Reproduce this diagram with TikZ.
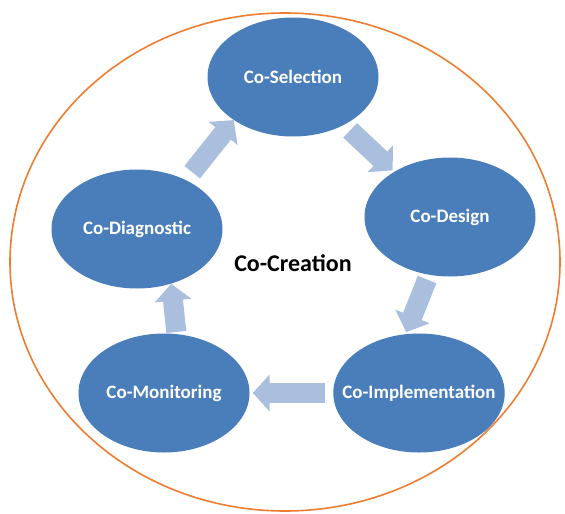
\documentclass[tikz,border=0pt]{standalone}
\usepackage{fontspec}
\setmainfont{Carlito}
\usetikzlibrary{arrows.meta, shapes.geometric}
\definecolor{phaseblue}{HTML}{4A7EBB}
\definecolor{flowblue}{HTML}{AABFDE}
\definecolor{ringorange}{HTML}{ED7D31}

\begin{document}
\begin{tikzpicture}[x=1pt, y=-1pt,
        phase/.style = {ellipse, fill=phaseblue, text=white, inner xsep=-16pt, inner ysep=0pt, minimum width=171pt, minimum height=119pt, font=\fontsize{19}{22}\selectfont\bfseries},
        flow/.style = {draw=flowblue, fill=flowblue, line width=20pt, -{Triangle[length=17pt, width=36pt]}}]
        \useasboundingbox (0,0) rectangle (565,514);
        \draw [ringorange, line width=1.6pt] (285,262) ellipse [x radius=275pt, y radius=249pt];
        \node [phase] (sel) at (293,77) {Co-Selection};
        \node [phase] (des) at (450,217) {Co-Design};
        \node [phase] (imp) at (419,393) {Co-Implementation};
        \node [phase] (mon) at (164,393) {Co-Monitoring};
        \node [phase] (dia) at (137,229) {Co-Diagnostic};
        \node [font=\fontsize{24}{28}\selectfont\bfseries] (cre) at (293,263) {Co-Creation};
        \draw [flow, shorten <=8pt, shorten >=2pt] (sel.-43) to (des.141);
        \draw [flow, shorten <=5pt, shorten >=2pt] (des.250) to (imp.103);
        \draw [flow, shorten <=8pt, shorten >=3pt] (imp.180) to (mon.0);
        \draw [flow, shorten <=2pt] (mon.78) to (dia.-58);
        \draw [flow, shorten <=10pt] (dia.45) to (sel.216);
    \end{tikzpicture}
\end{document}
